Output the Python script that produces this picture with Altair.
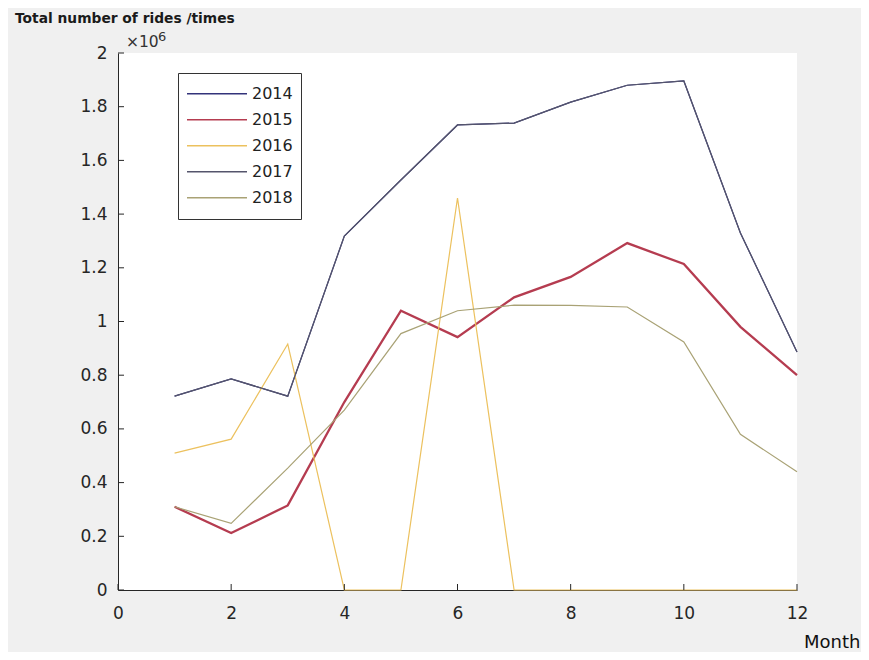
import altair as alt
import pandas as pd

years = ["2014", "2015", "2016", "2017", "2018"]
months = list(range(1, 13))
v2014 = [0.722, 0.786, 0.722, 1.318, 1.527, 1.732, 1.739, 1.817, 1.880, 1.896, 1.330, 0.886]
v2015 = [0.310, 0.212, 0.315, 0.700, 1.040, 0.942, 1.090, 1.166, 1.292, 1.214, 0.980, 0.800]
v2016 = [0.510, 0.562, 0.916, 0.0, 0.0, 1.460, 0.0, 0.0, 0.0, 0.0, 0.0, 0.0]
v2017 = [0.722, 0.786, 0.722, 1.318, 1.527, 1.732, 1.739, 1.817, 1.880, 1.896, 1.330, 0.886]
v2018 = [0.310, 0.248, 0.454, 0.670, 0.955, 1.040, 1.061, 1.060, 1.054, 0.924, 0.580, 0.440]
colors = ["#33337a", "#b53c50", "#ecc15e", "#55556c", "#a9a275"]

x_ticks = [0, 2, 4, 6, 8, 10, 12]
y_ticks = [0, 0.2, 0.4, 0.6, 0.8, 1.0, 1.2, 1.4, 1.6, 1.8, 2.0]

series = [v2014, v2015, v2016, v2017, v2018]
rows = []
for yr, vals in zip(years, series):
    for m, v in zip(months, vals):
        rows.append({"year": yr, "month": m, "rides": v})
df = pd.DataFrame(rows)

W, H = 679, 537
FONT = "DejaVu Sans"
AX = "#262626"

xscale = alt.Scale(domain=[0, 12], nice=False, zero=False)
yscale = alt.Scale(domain=[0, 2], nice=False)

lines = alt.Chart(df).mark_line(clip=False).encode(
    x=alt.X("month:Q", scale=xscale,
            axis=alt.Axis(values=x_ticks, format="d", ticks=False, grid=False, labelFontSize=17,
                          labelPadding=15, labelColor=AX, domainColor=AX, domainWidth=1,
                          labelFont=FONT,
                          title="Month", titleFontSize=18, titleFontWeight="normal", titleFont=FONT,
                          titleColor="#111111", titleAlign="right", titleAnchor="end",
                          titleX=742, titleY=57, titleBaseline="alphabetic", labelFlush=False)),
    y=alt.Y("rides:Q", scale=yscale,
            axis=alt.Axis(values=y_ticks, format="~g", ticks=False, grid=False,
                          labelFontSize=17, labelPadding=11, labelColor=AX, labelFont=FONT,
                          domainColor=AX, domainWidth=1, title=None, labelFlush=False)),
    color=alt.Color("year:N", scale=alt.Scale(domain=years, range=colors),
                    legend=alt.Legend(title=None, orient="none", legendX=60, legendY=20,
                                      strokeColor="#333333", fillColor="white", padding=8,
                                      symbolType="stroke", symbolSize=3600, clipHeight=25.5,
                                      symbolStrokeWidth=1.6, labelFontSize=16, labelColor="#222222",
                                      labelOffset=4, rowPadding=0, labelFont=FONT)),
    strokeWidth=alt.condition(alt.datum.year == "2015", alt.value(2.3), alt.value(1.2)),
    order=alt.Order("month:Q"),
)

xt = pd.DataFrame({"t": x_ticks})
yt = pd.DataFrame({"t": y_ticks})
xticks = alt.Chart(xt).mark_rule(color=AX, strokeWidth=1).encode(
    x=alt.X("t:Q", scale=xscale), y=alt.value(H), y2=alt.value(H - 6))
yticks = alt.Chart(yt).mark_rule(color=AX, strokeWidth=1).encode(
    y=alt.Y("t:Q", scale=yscale), x=alt.value(0), x2=alt.value(6))

title_txt = alt.Chart(pd.DataFrame({"s": ["Total number of rides /times"]})).mark_text(
    fontSize=13.8, font=FONT, fontWeight="bold", color="#1a1a1a", align="left",
    baseline="alphabetic").encode(text="s:N", x=alt.value(-103), y=alt.value(-30))
exp_base = alt.Chart(pd.DataFrame({"s": ["\u00d710"]})).mark_text(
    fontSize=15.5, font=FONT, color="#333333", align="left", baseline="alphabetic").encode(
    text="s:N", x=alt.value(8), y=alt.value(-6))
exp_sup = alt.Chart(pd.DataFrame({"s": ["6"]})).mark_text(
    fontSize=13, font=FONT, color="#333333", align="left", baseline="alphabetic").encode(
    text="s:N", x=alt.value(40), y=alt.value(-12))

chart = alt.layer(lines, xticks, yticks, title_txt, exp_base, exp_sup).properties(
    width=W, height=H,
    autosize=alt.AutoSizeParams(type="none"),
    padding={"left": 110, "top": 45, "right": 64, "bottom": 62},
).configure(background="#f0f0f0", font=FONT).configure_view(fill="white", stroke=None)

chart.save("out.html", embed_options={"renderer": "svg", "actions": False})
